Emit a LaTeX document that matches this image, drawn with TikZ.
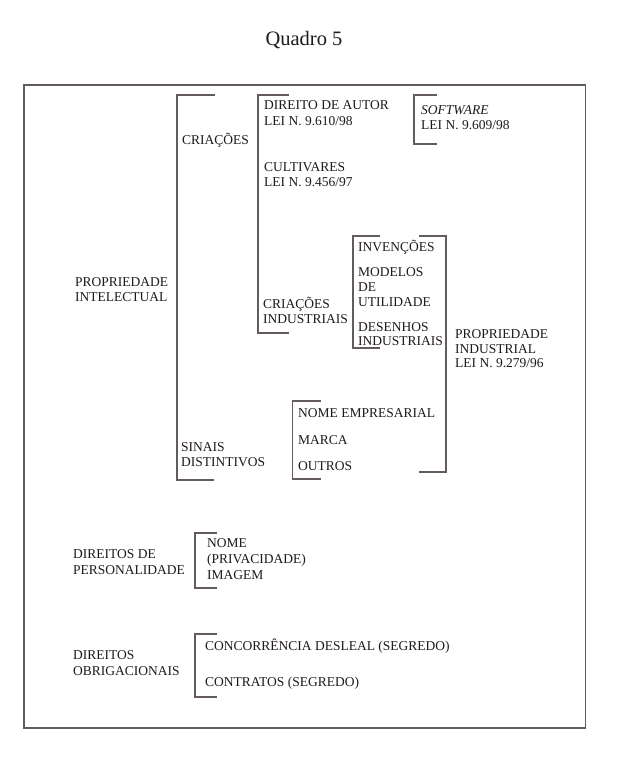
\documentclass[tikz,border=0pt]{standalone}
\usepackage{fontspec}
\setmainfont{Liberation Serif}
\definecolor{linec}{RGB}{100,92,90}
\definecolor{textc}{RGB}{30,26,24}
\tikzset{
  lbl/.style={anchor=base west, inner sep=0pt, align=left, text=textc,
    font=\fontsize{13.5pt}{15pt}\selectfont},
  brk/.style={draw=linec, line width=1.3pt},
  frame/.style={draw=linec, line width=1.2pt}
}
\begin{document}
\begin{tikzpicture}[x=1pt,y=-1pt]
\useasboundingbox (0,0) rectangle (623,759);
\node[anchor=base, inner sep=0pt, text=textc, font=\fontsize{20.5pt}{24pt}\selectfont] (title) at (304,46) {Quadro 5};
\draw[frame] (24,85) rectangle (585.5,728);

% brackets
\draw[brk] (215,95) -- (177,95) -- (177,480) -- (214,480);
\draw[brk] (289,95) -- (258,95) -- (258,333) -- (289,333);
\draw[brk] (437,95) -- (414,95) -- (414,144) -- (437,144);
\draw[brk] (380,236) -- (353,236) -- (353,348) -- (380,348);
\draw[brk] (419,236) -- (446,236) -- (446,472) -- (419,472);
\draw[brk] (321,401) -- (292.5,401) -- (292.5,479) -- (321,479);
\draw[brk] (217,533) -- (195,533) -- (195,588) -- (217,588);
\draw[brk] (217,634) -- (195,634) -- (195,697) -- (217,697);

% labels (multi-line nodes: base anchor = last line baseline)
\node[lbl] (pi) at (75,301.5) {PROPRIEDADE\\INTELECTUAL};
\node[lbl] (cri) at (182,145) {CRIAÇÕES};
\node[lbl] (sin) at (181,466.5) {SINAIS\\DISTINTIVOS};
\node[lbl,font=\fontsize{13.5pt}{15.5pt}\selectfont] (da) at (264,125.5) {DIREITO DE AUTOR\\LEI N. 9.610/98};
\node[lbl] (cul) at (264,186.5) {CULTIVARES\\LEI N. 9.456/97};
\node[lbl] (ci) at (263,323.5) {CRIAÇÕES\\INDUSTRIAIS};
\node[lbl] (sw) at (421,129.5) {\textit{SOFTWARE}\\LEI N. 9.609/98};
\node[lbl] (inv) at (358,251.5) {INVENÇÕES};
\node[lbl] (mu) at (358,306.5) {MODELOS\\DE\\UTILIDADE};
\node[lbl,font=\fontsize{13.5pt}{14.5pt}\selectfont] (di) at (358,345.5) {DESENHOS\\INDUSTRIAIS};
\node[lbl,font=\fontsize{13.5pt}{14.5pt}\selectfont] (pind) at (455,367.5) {PROPRIEDADE\\INDUSTRIAL\\LEI N. 9.279/96};
\node[lbl] (ne) at (298,417) {NOME EMPRESARIAL};
\node[lbl] (mar) at (298,444) {MARCA};
\node[lbl] (out) at (298,470) {OUTROS};
\node[lbl,font=\fontsize{13.5pt}{16.5pt}\selectfont] (dp) at (73,574.5) {DIREITOS DE\\PERSONALIDADE};
\node[lbl,font=\fontsize{13.5pt}{16pt}\selectfont] (nome) at (207,579.5) {NOME\\(PRIVACIDADE)\\IMAGEM};
\node[lbl,font=\fontsize{13.5pt}{16pt}\selectfont] (dob) at (73,675.5) {DIREITOS\\OBRIGACIONAIS};
\node[lbl] (cd) at (205,650.5) {CONCORRÊNCIA DESLEAL (SEGREDO)};
\node[lbl] (con) at (205,686.5) {CONTRATOS (SEGREDO)};
\end{tikzpicture}
\end{document}
